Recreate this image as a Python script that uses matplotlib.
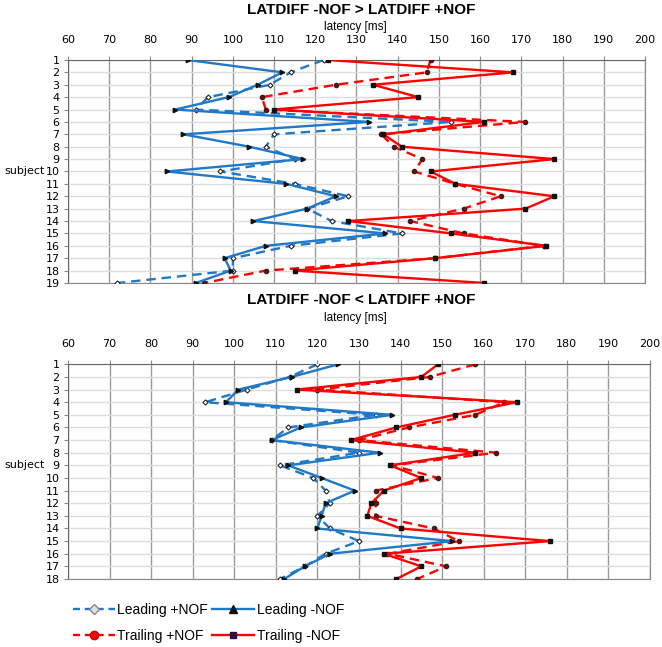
import numpy as np
import matplotlib
matplotlib.use("Agg")
import matplotlib.pyplot as plt
from matplotlib.lines import Line2D

BLUE = '#1f78c8'
RED = '#ff0000'

# ── Panel A: LATDIFF -NOF > LATDIFF +NOF (19 subjects) ──────────────────────
subj_a = list(range(1, 20))
lead_plus_a = [122, 114, 109, 94, 91, 153, 110, 108, 115, 97, 115, 128, 118, 124, 141, 114, 100, 100, 72]
lead_minus_a = [89, 112, 106, 99, 86, 133, 88, 104, 117, 84, 113, 125, 118, 105, 137, 108, 98, 99.5, 91]
trail_plus_a = [148, 147, 125, 107, 108, 171, 136, 139, 146, 144, 154, 165, 156, 143, 156, 175.5, 149, 108, 93]
trail_minus_a = [123, 168, 134, 145, 110, 161, 136.5, 141, 178, 148, 154, 178, 171, 128, 153, 176, 149, 115, 161]

# ── Panel B: LATDIFF -NOF < LATDIFF +NOF (18 subjects) ──────────────────────
subj_b = list(range(1, 19))
lead_plus_b = [120, 113.3, 103, 93, 134, 113, 109, 130, 111, 119, 122, 123, 120, 123, 130, 122, 117, 111]
lead_minus_b = [125, 113.8, 101, 98, 138, 116, 109, 135, 113, 121, 129, 122, 121, 120, 152.5, 123, 117, 112]
trail_plus_b = [158, 147, 120, 165, 158, 142, 130, 163, 138, 149, 134, 134, 134, 148, 154, 137, 151, 144]
trail_minus_b = [149, 145, 115, 168, 153, 139, 128, 158, 137.5, 145, 136, 133, 132, 140, 176, 136, 145, 139]

XTICKS = list(range(60, 201, 10))


def panel(ax, subj, lp, lm, tp, tm):
    ax.plot(lp, subj, color=BLUE, lw=1.7, ls=(0, (4, 2.5)), marker='D', ms=2.6,
            mfc='white', mec='#222', mew=0.8, zorder=4)
    ax.plot(lm, subj, color=BLUE, lw=1.7, marker='>', ms=3.2,
            mfc='#111', mec='#111', zorder=5)
    ax.plot(tp, subj, color=RED, lw=1.7, ls=(0, (4, 2.5)), marker='o', ms=3.2,
            mfc='#8b0000', mec='#222', mew=0.8, zorder=4)
    ax.plot(tm, subj, color=RED, lw=1.7, marker='s', ms=3.2,
            mfc='#111', mec='#111', zorder=5)
    ax.set_xlim(60, 200)
    ax.set_ylim(len(subj), 1)
    ax.set_xticks(XTICKS)
    ax.set_yticks(subj)
    ax.xaxis.tick_top()
    ax.xaxis.set_label_position('top')
    ax.tick_params(axis='x', labelsize=8, length=3, color='#888', pad=8)
    ax.tick_params(axis='y', labelsize=8, length=3, color='#888', pad=3)
    ax.grid(axis='x', color='#9a9a9a', lw=1.0, zorder=1)
    ax.grid(axis='y', color='#dcdcdc', lw=1.0, zorder=0)
    ax.set_axisbelow(True)
    for sp in ax.spines.values():
        sp.set_color('#888888')
    ax.spines['top'].set_color('#666666')
    ax.spines['left'].set_color('#666666')


fig = plt.figure(figsize=(6.62, 6.47), dpi=100)
fig.patch.set_facecolor('white')

ax1 = fig.add_axes([0.1027, 0.5626, 0.8716, 0.3447])
panel(ax1, subj_a, lead_plus_a, lead_minus_a, trail_plus_a, trail_minus_a)
ax2 = fig.add_axes([0.1027, 0.1051, 0.8790, 0.3318])
panel(ax2, subj_b, lead_plus_b, lead_minus_b, trail_plus_b, trail_minus_b)

TF = 'Liberation Sans'
fig.text(0.545, 0.984, 'LATDIFF -NOF > LATDIFF +NOF', ha='center', va='center',
         fontsize=11, fontweight='bold', family=TF)
fig.text(0.537, 0.959, 'latency [ms]', ha='center', va='center', fontsize=8.5, family=TF)
fig.text(0.545, 0.536, 'LATDIFF -NOF < LATDIFF +NOF', ha='center', va='center',
         fontsize=11, fontweight='bold', family=TF)
fig.text(0.537, 0.509, 'latency [ms]', ha='center', va='center', fontsize=8.5, family=TF)
fig.text(0.067, 1 - 171 / 647, 'subject', ha='right', va='center', fontsize=8)
fig.text(0.067, 1 - 465 / 647, 'subject', ha='right', va='center', fontsize=8)

handles = [
    Line2D([], [], color=BLUE, lw=1.7, ls=(0, (3, 2)), marker='D', ms=5,
           mfc='#e0e0e0', mec='#888'),
    Line2D([], [], color=RED, lw=1.7, ls=(0, (3, 2)), marker='o', ms=6,
           mfc=RED, mec='#cc0000'),
    Line2D([], [], color=BLUE, lw=1.7, marker='^', ms=6, mfc='#111', mec='#111'),
    Line2D([], [], color=RED, lw=1.7, marker='s', ms=5, mfc='#2a1040', mec='#2a1040'),
]
labels = ['Leading +NOF', 'Trailing +NOF', 'Leading -NOF', 'Trailing -NOF']
fig.legend(handles, labels, loc='center', bbox_to_anchor=(0.315, 0.037), ncol=2,
           frameon=False, prop={'family': TF, 'size': 10}, handlelength=3.0,
           handletextpad=0.2, columnspacing=0.3, labelspacing=0.9)

plt.savefig('out.png', dpi=100, facecolor='white')
plt.close()
